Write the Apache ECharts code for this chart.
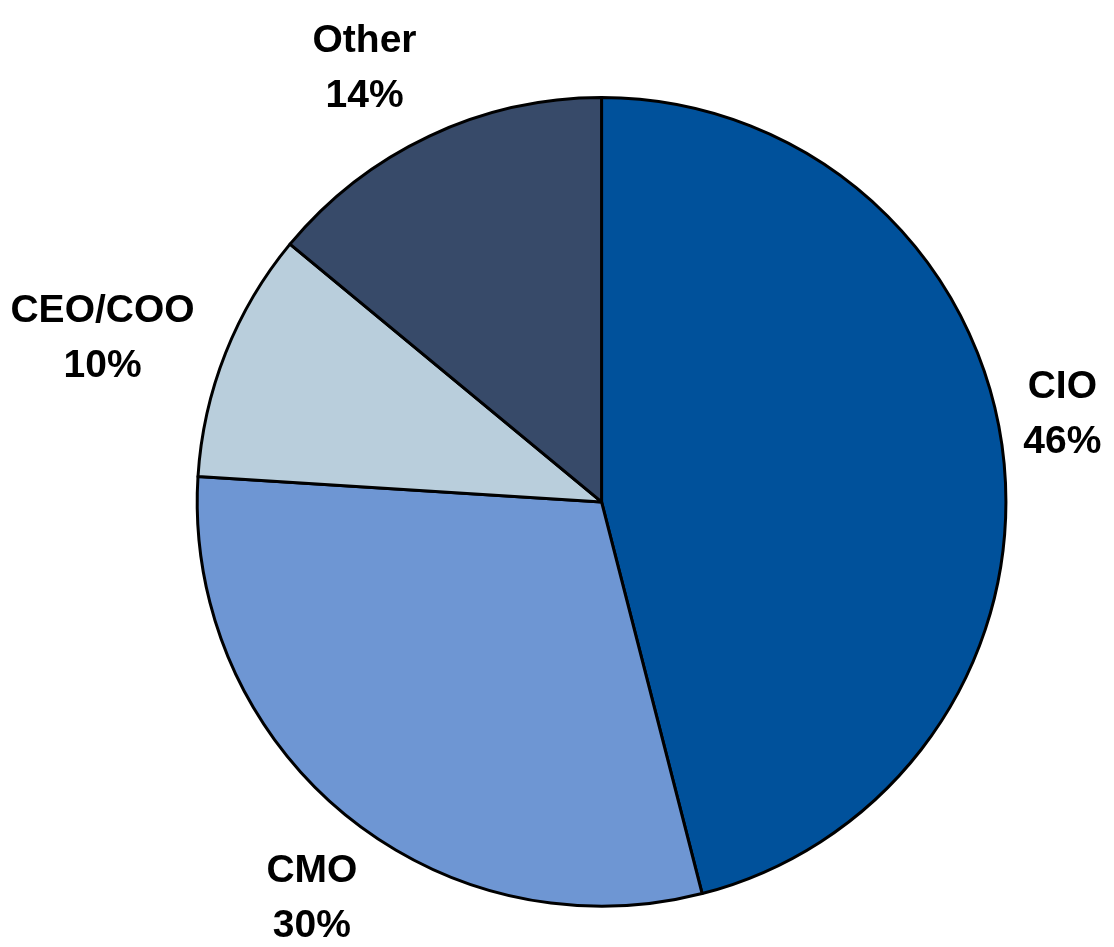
<!DOCTYPE html>
<html>
<head>
<meta charset="utf-8">
<title>Pie</title>
<script src="https://cdn.jsdelivr.net/npm/echarts@6/dist/echarts.min.js"></script>
<style>
    html, body { margin: 0; padding: 0; background: #fff; }
    #chart { width: 1114px; height: 947px; }
</style>
</head>
<body>
<div id="chart"></div>
<script>
// 数据
const names = ['CIO', 'CMO', 'CEO/COO', 'Other']
const values = [46, 30, 10, 14]
const colors = ['#00519B', '#6E96D3', '#B9CEDC', '#374A69']

const chart = echarts.init(document.getElementById('chart'))
const centerPct = [0.54, 0.53]
// 标签整体逆时针偏转一点（度）
const labelTurn = -3.5 * Math.PI / 180

const option = {
    backgroundColor: '#fff',
    animation: false,
    series: [
        {
            type: 'pie',
            center: [centerPct[0] * 100 + '%', centerPct[1] * 100 + '%'],
            radius: '85.4%',
            startAngle: 90,
            clockwise: true,
            avoidLabelOverlap: false,
            itemStyle: {
                borderColor: '#000',
                borderWidth: 3
            },
            label: {
                show: true,
                position: 'outside',
                formatter: '{b}\n{c}%',
                color: '#000',
                fontSize: 39,
                fontWeight: 'bold',
                fontFamily: '"Liberation Sans", Arial, Helvetica, sans-serif',
                lineHeight: 55,
                distanceToLabelLine: 0
            },
            labelLine: {
                show: false,
                length: 16,
                length2: 0
            },
            // 标签居中放在扇区外侧
            labelLayout: function (params) {
                const rect = params.labelRect
                const cx = chart.getWidth() * centerPct[0]
                const cy = chart.getHeight() * centerPct[1]
                const ax = params.align === 'right' ? rect.x + rect.width : rect.x
                const ay = rect.y + rect.height / 2
                const len = Math.sqrt((ax - cx) * (ax - cx) + (ay - cy) * (ay - cy))
                const ang = Math.atan2(ay - cy, ax - cx) + labelTurn
                const dx = Math.cos(ang)
                const dy = Math.sin(ang)
                const push = Math.abs(dx) * rect.width / 2 + Math.abs(dy) * rect.height / 2
                return {
                    x: cx + dx * (len + push),
                    y: cy + dy * (len + push),
                    align: 'center',
                    verticalAlign: 'middle'
                }
            },
            data: names.map((n, i) => ({
                name: n,
                value: values[i],
                itemStyle: { color: colors[i] }
            }))
        }
    ]
}

chart.setOption(option)
</script>
</body>
</html>
